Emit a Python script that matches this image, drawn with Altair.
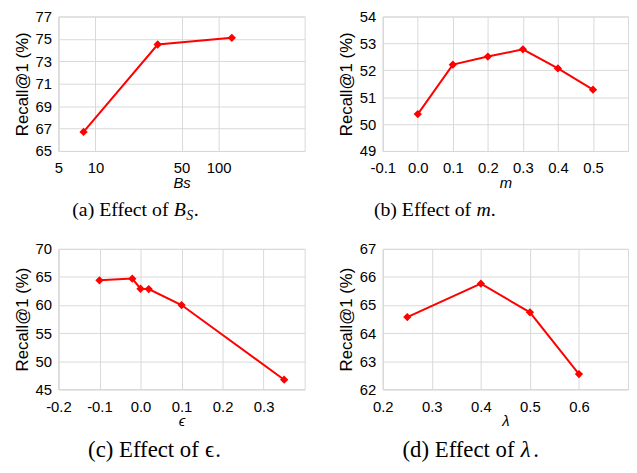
import altair as alt
import pandas as pd

# ---------------- data ----------------
bs_x = [8, 32, 128]
bs_y = [66.7, 74.5, 75.1]

m_x = [0.0, 0.1, 0.2, 0.3, 0.4, 0.5]
m_y = [50.37, 52.21, 52.51, 52.78, 52.07, 51.28]

eps_x = [-0.1, -0.02, 0.0, 0.02, 0.1, 0.35]
eps_y = [64.4, 64.7, 62.9, 62.85, 60.0, 46.7]

lam_x = [0.25, 0.4, 0.5, 0.6]
lam_y = [64.57, 65.76, 64.74, 62.54]

a_xticks = [5, 10, 50, 100]
a_yticks = [65, 67, 69, 71, 73, 75, 77]
b_xticks = [-0.1, 0.0, 0.1, 0.2, 0.3, 0.4, 0.5]
b_yticks = [49, 50, 51, 52, 53, 54]
c_xticks = [-0.2, -0.1, 0.0, 0.1, 0.2, 0.3]
c_yticks = [45, 50, 55, 60, 65, 70]
d_xticks = [0.2, 0.3, 0.4, 0.5, 0.6]
d_yticks = [62, 63, 64, 65, 66, 67]

RED = "#ff0000"
GRID = "#d9d9d9"
SANS = "Liberation Sans"
SERIF = "Liberation Serif"

LBL_1F = "(datum.value < 0 ? '-' : '') + format(abs(datum.value), '.1f')"


def caption(parts, x0, y0):
    """parts: list of (text, italic, size, dy, width_px)"""
    layers = []
    x = x0
    for text, italic, size, dy, w in parts:
        layers.append(
            alt.Chart(pd.DataFrame({"t": [text]}))
            .mark_text(align="left", baseline="alphabetic", font=SERIF,
                       fontSize=size, fontStyle="italic" if italic else "normal",
                       color="black", dy=dy)
            .encode(x=alt.value(x), y=alt.value(y0), text="t:N")
        )
        x += w
    return layers


def panel(xs, ys, xscale, xvalues, xlabel_expr, xtitle, yscale, yvalues,
          w, h, cap_layers):
    df = pd.DataFrame({"x": xs, "y": ys})
    xaxis = dict(values=xvalues, title=xtitle, titleFontStyle="italic",
                 titleFontSize=15, titlePadding=0, labelPadding=10,
                 labelOverlap=False, labelFlush=False)
    if xlabel_expr:
        xaxis["labelExpr"] = xlabel_expr
    else:
        xaxis["format"] = "d"
    line = (
        alt.Chart(df)
        .mark_line(color=RED, strokeWidth=2,
                   point=alt.OverlayMarkDef(shape="diamond", size=70, color=RED,
                                            filled=True, opacity=1))
        .encode(
            x=alt.X("x:Q", scale=xscale, axis=alt.Axis(**xaxis)),
            y=alt.Y("y:Q", scale=yscale,
                    axis=alt.Axis(values=yvalues, title="Recall@1 (%)",
                                  titleFontSize=17, titlePadding=4,
                                  labelPadding=7, labelOverlap=False,
                                  labelFlush=False)),
        )
    )
    return alt.layer(line, *cap_layers).properties(width=w, height=h)


TOP_H = 136
BOT_H = 142
T = 20   # top caption font
B = 23   # bottom caption font

cap_a = caption([("(a) Effect of ", False, T, 0, 5.136 * T),
                 ("B", True, T, 0, 0.63 * T),
                 ("S", True, 0.7 * T, 4, 0.38 * T),
                 (".", False, T, 0, 0.25 * T)], 14, 202)
cap_b = caption([("(b) Effect of ", False, T, 0, 5.192 * T),
                 ("m", True, T, 0, 0.72 * T),
                 (".", False, T, 0, 0.25 * T)], -9, 202)
cap_c = caption([("(c) Effect of ", False, B, 0, 5.136 * B),
                 ("ϵ", False, B, 0, 0.45 * B),
                 (".", False, B, 0, 0.25 * B)], 30, 210)
cap_d = caption([("(d) Effect of ", False, B, 0, 5.192 * B),
                 ("λ", True, B, 0, 0.55 * B),
                 (".", False, B, 0, 0.25 * B)], 20, 210)

pa = panel(bs_x, bs_y, alt.Scale(type="log", domain=[5, 500]), a_xticks, None, "Bs",
           alt.Scale(domain=[65, 77]), a_yticks, 249, TOP_H, cap_a)
pb = panel(m_x, m_y, alt.Scale(domain=[-0.1, 0.6]), b_xticks, LBL_1F, "m",
           alt.Scale(domain=[49, 54]), b_yticks, 248, TOP_H, cap_b)
pc = panel(eps_x, eps_y, alt.Scale(domain=[-0.2, 0.4]), c_xticks, LBL_1F, "ϵ",
           alt.Scale(domain=[45, 70]), c_yticks, 249, BOT_H, cap_c)
pd_ = panel(lam_x, lam_y, alt.Scale(domain=[0.2, 0.7]), d_xticks, LBL_1F, "λ",
            alt.Scale(domain=[62, 67]), d_yticks, 248, BOT_H, cap_d)

chart = (
    alt.concat(pa, pb, pc, pd_, columns=2, bounds="flush",
               spacing={"row": 99, "column": 79})
    .properties(padding={"left": 4, "top": -2, "right": 0, "bottom": 0})
    .configure_view(stroke=GRID, strokeWidth=1)
    .configure_axis(gridColor=GRID, gridWidth=1, domainColor=GRID, ticks=False,
                    tickSize=0, labelFont=SANS, labelFontSize=15, labelColor="black",
                    titleFont=SANS, titleFontWeight="normal", titleColor="black")
)

chart.save("out.html", embed_options={"renderer": "svg", "actions": False})
